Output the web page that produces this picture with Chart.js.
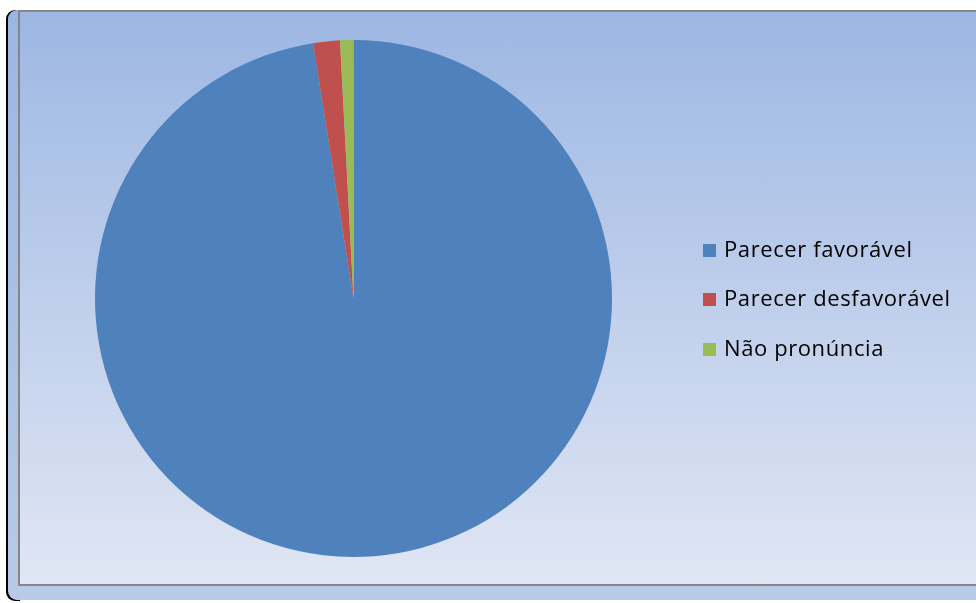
<!DOCTYPE html>
<html>
<head>
<meta charset="utf-8">
<script src="https://cdn.jsdelivr.net/npm/chart.js@4"></script>
<style>
  body { margin: 0; width: 976px; height: 603px; background: #fff; overflow: hidden; position: relative; font-family: "Open Sans", "Noto Sans", sans-serif; }
  #shadow { position: absolute; left: 6px; top: 10px; width: 14px; height: 591px; background: #000; border-radius: 9px 0 0 9px; }
  #outer { position: absolute; left: 8px; top: 10px; width: 980px; height: 590px; border-radius: 9px 0 0 9px;
           background: linear-gradient(#9cb6e2, #b7cbe6); }
  #plot { position: absolute; left: 18px; top: 10px; width: 970px; height: 572px; border: 2px solid #868686; border-right: none;
          background: linear-gradient(#9db7e3, #e0e6f4); }
  #wrap { position: absolute; left: 0; top: 0; width: 958px; height: 572px; }
  #legend { position: absolute; left: 683px; top: 0; }
  .item { position: absolute; left: 0; white-space: nowrap; font-size: 22px; letter-spacing: 0.6px; color: #000; line-height: 24px; }
  .box { display: inline-block; width: 13px; height: 13px; margin-right: 8px; vertical-align: 0px; }
</style>
</head>
<body>
<div id="shadow"></div>
<div id="outer"></div>
<div id="plot">
  <div id="wrap"><canvas id="pie"></canvas></div>
  <div id="legend"></div>
</div>
<script>
const labels = ['Parecer favorável', 'Parecer desfavorável', 'Não pronúncia'];
const values = [117, 2, 1];
const colors = ['#4f81bd', '#c0504d', '#9bbb59'];

const chart = new Chart(document.getElementById('pie'), {
  type: 'pie',
  data: {
    labels: labels,
    datasets: [{ data: values, backgroundColor: colors, borderWidth: 0 }]
  },
  options: {
    responsive: true,
    maintainAspectRatio: false,
    animation: false,
    layout: { padding: { left: 75, right: 366, top: 28, bottom: 27 } },
    plugins: { legend: { display: false }, tooltip: { enabled: false } }
  }
});

// legenda a partir dos dados do gráfico
const leg = document.getElementById('legend');
const ys = [224, 273, 323];
chart.data.labels.forEach((lab, i) => {
  const d = document.createElement('div');
  d.className = 'item';
  d.style.top = ys[i] + 'px';
  d.innerHTML = '<span class="box" style="background:' + chart.data.datasets[0].backgroundColor[i] + '"></span>' + lab;
  leg.appendChild(d);
});
</script>
</body>
</html>
